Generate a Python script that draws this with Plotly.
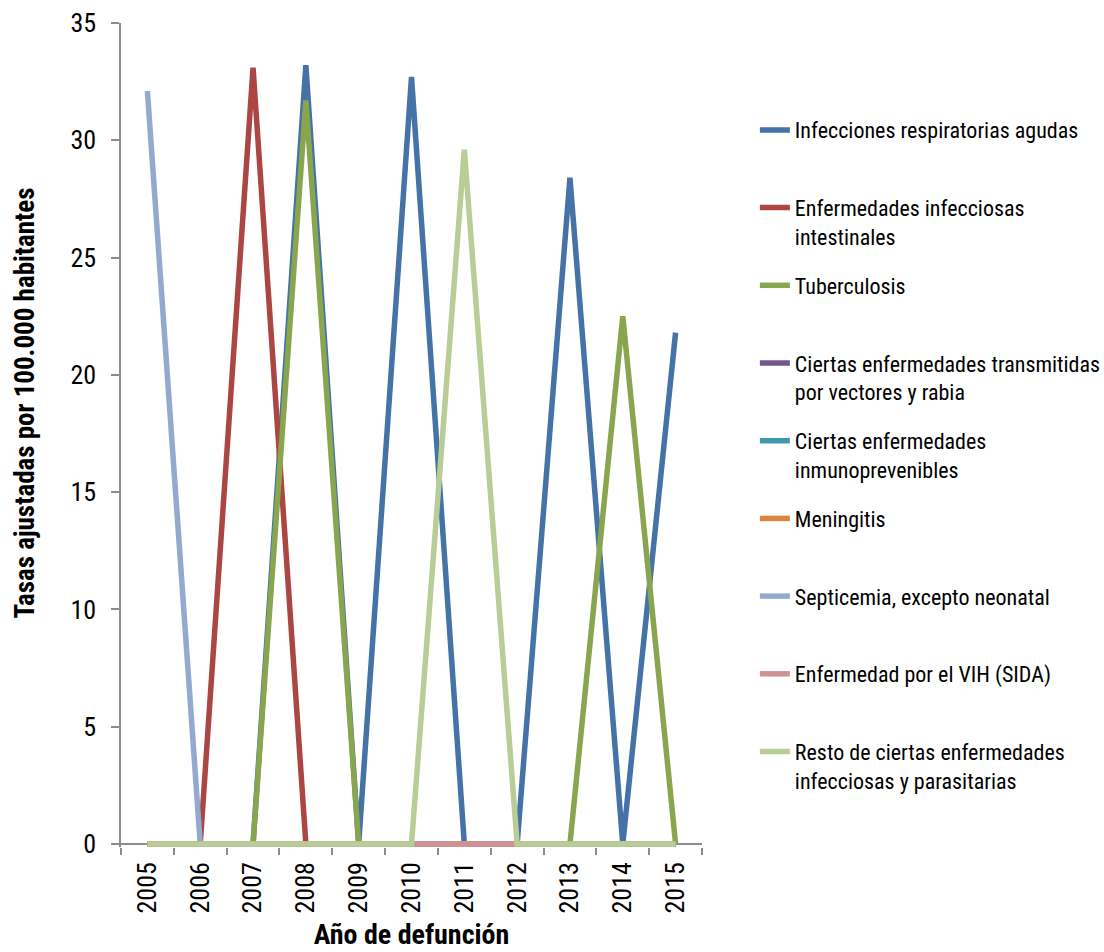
import plotly.graph_objects as go

years = ["2005", "2006", "2007", "2008", "2009", "2010", "2011", "2012", "2013", "2014", "2015"]

names = [
    "Infecciones respiratorias agudas",
    "Enfermedades infecciosas<br>intestinales",
    "Tuberculosis",
    "Ciertas enfermedades transmitidas<br>por vectores y rabia",
    "Ciertas enfermedades<br>inmunoprevenibles",
    "Meningitis",
    "Septicemia, excepto neonatal",
    "Enfermedad por el VIH (SIDA)",
    "Resto de ciertas enfermedades<br>infecciosas y parasitarias",
]

ira = [0, 0, 0, 33.2, 0, 32.7, 0, 0, 28.4, 0, 21.8]
intestinales = [0, 0, 33.1, 0, 0, 0, 0, 0, 0, 0, 0]
tuberculosis = [0, 0, 0, 31.7, 0, 0, 0, 0, 0, 22.5, 0]
vectores = [0, 0, 0, 0, 0, 0, 0, 0, 0, 0, 0]
inmunoprev = [0, 0, 0, 0, 0, 0, 0, 0, 0, 0, 0]
meningitis = [0, 0, 0, 0, 0, 0, 0, 0, 0, 0, 0]
septicemia = [32.1, 0, 0, 0, 0, 0, 0, 0, 0, 0, 0]
vih = [0, 0, 0, 0, 0, 0, 0, 0, 0, 0, 0]
resto = [0, 0, 0, 0, 0, 0, 29.6, 0, 0, 0, 0]

series = [ira, intestinales, tuberculosis, vectores, inmunoprev, meningitis, septicemia, vih, resto]
colors = ["#4572A7", "#AA4643", "#89A54E", "#71588F", "#4198AF", "#DB843D", "#93A9CF", "#D19392", "#B9CD96"]

y_title = "Tasas ajustadas por 100.000 habitantes"
x_title = "Año de defunción"

FONT = "Roboto Condensed, Liberation Sans Narrow, Arial Narrow, sans-serif"
AXC = "#8c8c8c"

fig = go.Figure()
for i, (n, vals, c) in enumerate(zip(names, series, colors)):
    label = n if "<br>" in n else n + "<br>\u00a0"
    fig.add_trace(go.Scatter(
        x=years, y=vals, name=label, mode="lines",
        line=dict(color=c, width=5.5),
        cliponaxis=False, legendgroup=f"g{i}",
    ))

fig.add_annotation(
    text=f"<b>{y_title}</b>", textangle=-90,
    xref="paper", yref="paper", x=(25 - 121) / 581, y=(844 - 402) / 821,
    xanchor="center", yanchor="middle", showarrow=False,
    font=dict(family=FONT, size=27, color="black"),
)

fig.update_layout(
    width=1104, height=952,
    margin=dict(l=121, r=402, t=23, b=105, autoexpand=False),
    paper_bgcolor="white", plot_bgcolor="white",
    font=dict(family=FONT, size=22, color="black"),
    showlegend=True,
    legend=dict(
        x=1.091, y=0.8955, xanchor="left", yanchor="top",
        font=dict(family=FONT, size=22, color="black"),
        tracegroupgap=17.5, valign="top", bgcolor="rgba(0,0,0,0)",
    ),
    xaxis=dict(
        type="category", range=[-0.5, 10.5],
        showline=False,
        ticks="outside", tickson="boundaries", ticklen=7, tickcolor=AXC, tickwidth=1.5,
        tickangle=-90, tickfont=dict(family=FONT, size=26), ticklabelstandoff=9,
        showgrid=False, zeroline=False, layer="below traces",
        title=dict(text=f"<b>{x_title}</b>", font=dict(family=FONT, size=28), standoff=11),
    ),
    yaxis=dict(
        range=[-0.128, 35], tickvals=[0, 5, 10, 15, 20, 25, 30, 35],
        showline=True, linecolor=AXC, linewidth=1.5,
        zeroline=True, zerolinecolor=AXC, zerolinewidth=1.5,
        ticks="outside", ticklen=8, tickcolor=AXC, tickwidth=1.5,
        tickfont=dict(family=FONT, size=26), ticklabelstandoff=10,
        showgrid=False, layer="below traces",
    ),
)

fig.write_html("out.html")
